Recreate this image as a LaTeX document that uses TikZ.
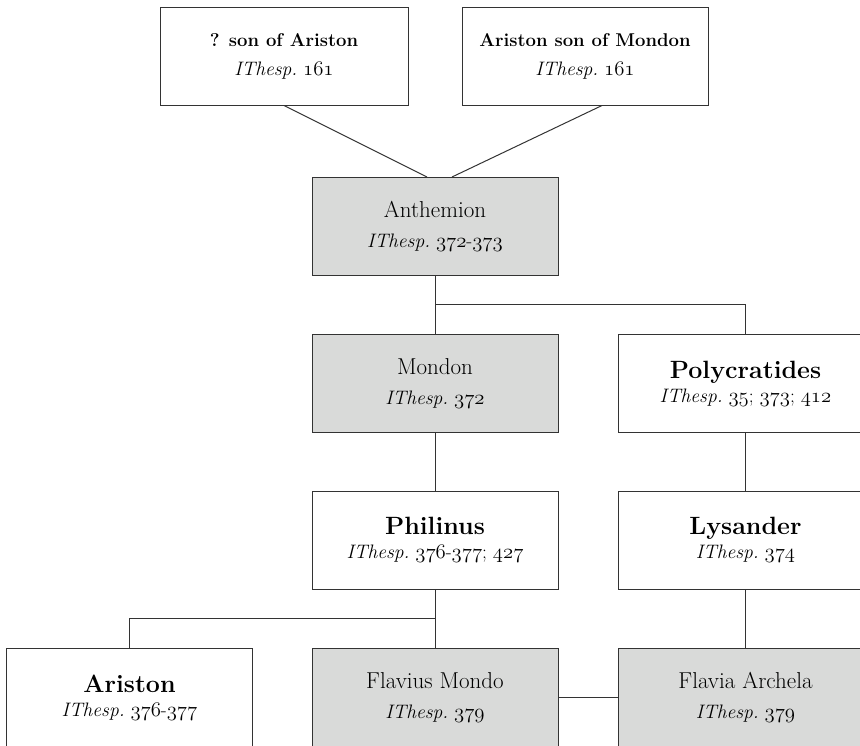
\documentclass[tikz,border=0pt]{standalone}
\usetikzlibrary{calc}
\definecolor{boxgray}{HTML}{D9DAD9}
\definecolor{inkline}{HTML}{333333}
\newcommand{\osn}[1]{{\fontencoding{OML}\fontfamily{lmm}\fontseries{m}\fontshape{it}\selectfont #1}}
\newcommand{\refit}[1]{{\fontsize{19.5}{24}\selectfont\textit{IThesp.}\ #1}}
\newcommand{\plainname}[1]{{\fontsize{23}{30}\selectfont #1}}
\newcommand{\boldname}[1]{{\fontsize{25}{24}\selectfont\bfseries #1}}
\newcommand{\topname}[1]{{\fontsize{18.5}{29}\selectfont\bfseries #1}}
\begin{document}
\begin{tikzpicture}[x=1pt,y=-1pt,
  person/.style={draw=inkline, line width=1pt, minimum width=246pt, minimum height=98pt,
    inner sep=0pt, align=center, text=black},
  grayperson/.style={person, fill=boxgray, font=\fontsize{23}{30}\selectfont},
  boldperson/.style={person, font=\fontsize{19.5}{24}\selectfont},
  topperson/.style={person, font=\fontsize{19}{29}\selectfont},
  link/.style={draw=inkline, line width=1pt}]
\useasboundingbox (0,0) rectangle (860,745);
\clip (0,0) rectangle (860,745);
% top row
\node[topperson, minimum width=248pt] (b1) at (284,56)
  {\topname{? son of Ariston}\\ \refit{\osn{161}}};
\node[topperson] (b2) at (585,56)
  {\topname{Ariston son of Mondon}\\ \refit{\osn{161}}};
% Anthemion
\node[grayperson] (anth) at (435,226.5) {\plainname{Anthemion}\\ \refit{\osn{372}-\osn{373}}};
% row 3
\node[grayperson] (mond) at (435,383.5) {\plainname{Mondon}\\ \refit{\osn{372}}};
\node[boldperson, minimum width=255pt] (poly) at (745.5,383.5)
  {\boldname{Polycratides}\\ \refit{\osn{35}; \osn{373}; \osn{412}}};
% row 4
\node[boldperson] (phil) at (435,540)
  {\boldname{Philinus}\\ \refit{\osn{376}-\osn{377}; \osn{427}}};
\node[boldperson, minimum width=255pt] (lys) at (745.5,540)
  {\boldname{Lysander}\\ \refit{\osn{374}}};
% row 5
\node[boldperson] (arist) at (129.5,697.5)
  {\boldname{Ariston}\\ \refit{\osn{376}-\osn{377}}};
\node[grayperson] (flav) at (435,697.5) {\plainname{Flavius Mondo}\\ \refit{\osn{379}}};
\node[grayperson, minimum width=255pt] (flava) at (745.5,697.5) {\plainname{Flavia Archela}\\ \refit{\osn{379}}};
% connectors
\coordinate (split1) at ($(anth.south)+(0,28.5)$);
\coordinate (split2) at ($(phil.south)+(0,29)$);
\draw[link] (b1.south) -- ($(anth.north)+(-8,0)$);
\draw[link] ($(b2.south)+(17,0)$) -- ($(anth.north)+(17,0)$);
\draw[link] (anth.south) -- (mond.north);
\draw[link] (split1) -| (poly.north);
\draw[link] (mond.south) -- (phil.north);
\draw[link] (poly.south) -- (lys.north);
\draw[link] (phil.south) -- (flav.north);
\draw[link] (split2) -| (arist.north);
\draw[link] (lys.south) -- (flava.north);
\draw[link] (flav.east) -- (flava.west);
\end{tikzpicture}
\end{document}
